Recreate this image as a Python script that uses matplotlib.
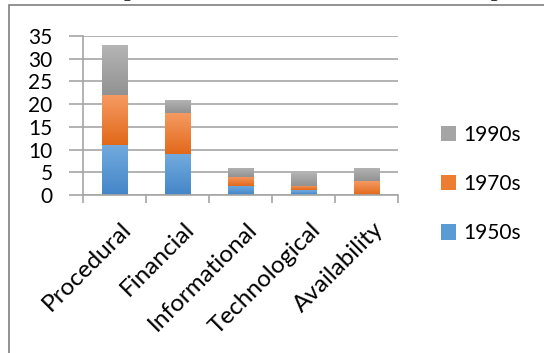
import matplotlib.pyplot as plt
import matplotlib.patches as patches
import matplotlib.transforms as mtransforms
from matplotlib.colors import LinearSegmentedColormap
import numpy as np

# data
categories = ["Procedural", "Financial", "Informational", "Technological", "Availability"]
s1950 = [11, 9, 2, 1, 0]
s1970 = [11, 9, 2, 1, 3]
s1990 = [11, 3, 2, 3, 3]

plt.rcParams['font.family'] = ['Lato', 'DejaVu Sans']

W, H = 544, 353
fig = plt.figure(figsize=(W / 100, H / 100), dpi=100)

# frame around the chart (runs off the right and bottom edges)
fig.patches.append(patches.Rectangle((8.5 / W, -0.1), 1.2, 1 - 5 / H + 0.1,
                                     transform=fig.transFigure, fill=False,
                                     edgecolor='#7f7f7f', lw=1.2))
# caption line, cut at the top of the image
fig.text(0.5, 1 + 3 / H, "Table 3 Significant references to resource stress according",
         ha='center', va='baseline', fontsize=14, family='Liberation Serif')

ax = fig.add_axes([83 / W, 1 - 195 / H, (398 - 83) / W, (195 - 36) / H])

x = np.arange(len(categories))
bw = 0.41
b1 = ax.bar(x, s1950, bw, color='#5b9bd5', label='1950s')
b2 = ax.bar(x, s1970, bw, bottom=s1950, color='#ed7d31', label='1970s')
bottom2 = [a + b for a, b in zip(s1950, s1970)]
b3 = ax.bar(x, s1990, bw, bottom=bottom2, color='#a5a5a5', label='1990s')

# vertical gradient fill like the original
grads = {
    id(b1): ('#72aade', '#4486c8'),
    id(b2): ('#f59a62', '#e2691a'),
    id(b3): ('#b5b5b5', '#929292'),
}
g = np.linspace(1, 0, 64).reshape(-1, 1)
for bars in (b1, b2, b3):
    top, bot = grads[id(bars)]
    cmap = LinearSegmentedColormap.from_list('g', [bot, top])
    for r in bars:
        if r.get_height() <= 0:
            continue
        x0, y0, w, h = r.get_x(), r.get_y(), r.get_width(), r.get_height()
        im = ax.imshow(g, cmap=cmap, extent=(x0, x0 + w, y0, y0 + h),
                       aspect='auto', zorder=r.get_zorder() + 0.1, vmin=0, vmax=1)
        im.set_clip_path(r)

ax.set_xlim(-0.5, len(categories) - 0.5)
ax.set_ylim(0, 35)
ax.set_yticks(range(0, 36, 5))
ax.yaxis.grid(True, color='#a6a6a6', lw=1.2)
ax.set_axisbelow(True)
for s in ['top', 'right']:
    ax.spines[s].set_visible(False)
for s in ['bottom', 'left']:
    ax.spines[s].set_color('#a6a6a6')
    ax.spines[s].set_linewidth(1.2)
ax.tick_params(axis='y', length=10, color='#a6a6a6', width=1.2, labelsize=15, pad=12)
ax.set_xticks(np.arange(-0.5, len(categories), 1))
ax.set_xticklabels([])
ax.tick_params(axis='x', which='major', length=6, color='#a6a6a6', width=1.2)
ax.set_xticks(x, minor=True)
ax.set_xticklabels(categories, minor=True, rotation=45, ha='right',
                   rotation_mode='anchor', fontsize=17.5)
ax.tick_params(axis='x', which='minor', length=0, pad=17)
shift = mtransforms.ScaledTranslation(6 / 100, 0, fig.dpi_scale_trans)
for lbl in ax.get_xticklabels(minor=True):
    lbl.set_transform(lbl.get_transform() + shift)

ax.legend([b3, b2, b1], ['1990s', '1970s', '1950s'], loc='center left',
          bbox_to_anchor=(422 / W, 1 - 184 / H), bbox_transform=fig.transFigure,
          frameon=False, fontsize=15, handlelength=0.75, handleheight=0.75,
          handletextpad=0.35, labelspacing=1.4)

fig.savefig('out.png', dpi=100)
